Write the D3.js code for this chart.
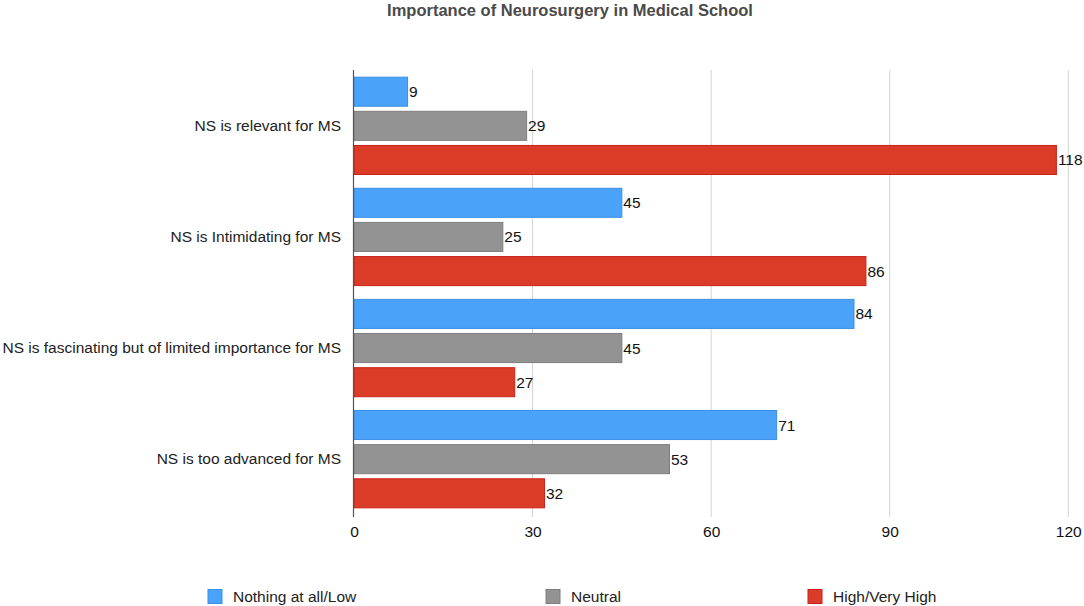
<!DOCTYPE html>
<html><head><meta charset="utf-8">
<script src="https://cdn.jsdelivr.net/npm/d3@7"></script>
<style>body{margin:0;background:#fff;} text{font-family:"Liberation Sans",Arial,Helvetica,sans-serif;}</style>
</head><body>
<svg id="c" width="1084" height="606"></svg>
<script>
const categories = ["NS is relevant for MS","NS is Intimidating for MS","NS is fascinating but of limited importance for MS","NS is too advanced for MS"];
const seriesNames = ["Nothing at all/Low","Neutral","High/Very High"];
const lowValues = [9,45,84,71];
const neutralValues = [29,25,45,53];
const highValues = [118,86,27,32];
const tickValues = [0,30,60,90,120];
const fills = ["#4aa3f8","#939393","#db3c27"];
const strokes = ["#3b8fe6","#7e7e7e","#c8231a"];
const seriesValues = [lowValues, neutralValues, highValues];
const FS = 15.5;

const svg = d3.select("#c");
const x = d3.scaleLinear().domain([0,120]).range([354,1068.3]);
const y0 = d3.scaleBand().domain(categories).range([70,515]).paddingInner(0.115).paddingOuter(0.06);
const y1 = d3.scaleBand().domain(seriesNames).range([0,y0.bandwidth()]).paddingInner(0.12);

svg.append("text").attr("x",570).attr("y",16).attr("text-anchor","middle")
  .attr("font-size",16.5).attr("font-weight","bold").attr("fill","#4a4a4a").text("Importance of Neurosurgery in Medical School");

// gridlines
svg.append("g").selectAll("line").data(tickValues.slice(1)).join("line")
  .attr("x1",d=>x(d)).attr("x2",d=>x(d)).attr("y1",70).attr("y2",517)
  .attr("stroke","#d4d4d4").attr("stroke-width",1);

// x axis tick labels
const xAxis = d3.axisBottom(x).tickValues(tickValues).tickSize(0).tickPadding(9);
const gx = svg.append("g").attr("transform","translate(0,517)").call(xAxis);
gx.select(".domain").remove();
gx.selectAll("text").attr("font-size",FS).attr("fill","#111").attr("font-family","Liberation Sans, Arial, sans-serif");

// y axis labels
const yAxis = d3.axisLeft(y0).tickSize(0).tickPadding(13);
const gy = svg.append("g").attr("transform","translate(354,0)").call(yAxis);
gy.select(".domain").remove();
gy.selectAll("text").attr("font-size",FS).attr("fill","#222").attr("font-family","Liberation Sans, Arial, sans-serif");

const groups = svg.append("g").selectAll("g").data(categories).join("g")
  .attr("transform",d=>`translate(0,${y0(d)})`);
groups.each(function(cat,ci){
  const g = d3.select(this);
  seriesNames.forEach((s,si)=>{
    const v = seriesValues[si][ci];
    g.append("rect").attr("x",x(0)).attr("y",y1(s)+0.5).attr("width",x(v)-x(0)).attr("height",y1.bandwidth()-1)
      .attr("fill",fills[si]).attr("stroke",strokes[si]).attr("stroke-width",1);
    g.append("text").attr("x",x(v)+1.5).attr("y",y1(s)+y1.bandwidth()/2+5.5).attr("font-size",FS).attr("fill","#111").text(v);
  });
});

// axis line
svg.append("line").attr("x1",353.5).attr("x2",353.5).attr("y1",70).attr("y2",517).attr("stroke","#555").attr("stroke-width",1.2);

// legend
const legX = [208,546,808];
seriesNames.forEach((s,i)=>{
  svg.append("rect").attr("x",legX[i]).attr("y",589.5).attr("width",14).attr("height",14)
    .attr("fill",fills[i]).attr("stroke",strokes[i]);
  svg.append("text").attr("x",legX[i]+25).attr("y",602).attr("font-size",FS).attr("fill","#222").text(s);
});
</script>
</body></html>
